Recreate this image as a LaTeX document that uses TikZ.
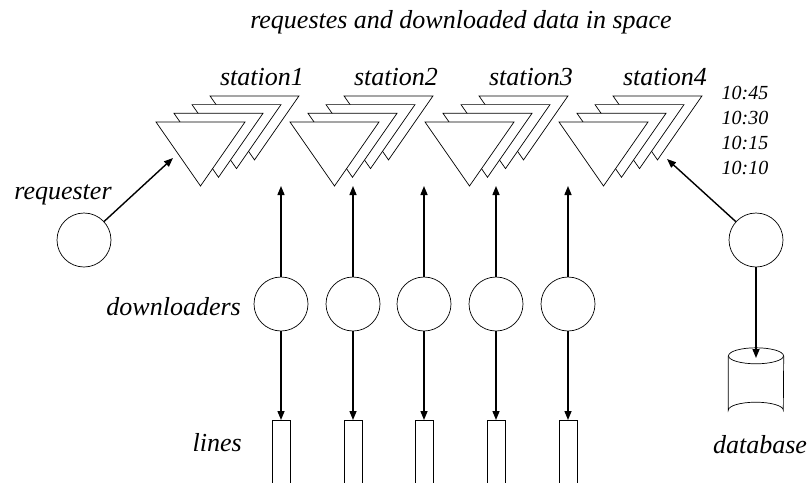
\documentclass[tikz,border=0pt]{standalone}
\usepackage{fontspec}
\setmainfont{Liberation Serif}
\usetikzlibrary{arrows.meta,positioning}
\newcommand{\widthtri}{89}
\newcommand{\heighttri}{64}
\newcommand{\shiftx}{18}
\newcommand{\shifty}{8.7}
\tikzset{
    common/.style={draw, line width=0.7pt},
    tri/.style={common, fill=white},
    agent/.style={common, circle, minimum size=54pt, inner sep=0pt},
    line/.style={common, rectangle, minimum width=18pt, minimum height=80pt, anchor=north},
    store/.style={rectangle, minimum width=55pt, minimum height=54pt, inner sep=0pt},
    endcap/.style={x radius=27.5, y radius=8},
    link/.style={line width=1.4pt, -{Triangle[length=9pt,width=7pt]}},
    lbl/.style={font=\fontsize{26}{26}\selectfont\itshape, inner sep=0pt},
    tlbl/.style={font=\fontsize{20}{20}\selectfont\itshape, inner sep=0pt}
}
% one station: four stacked triangles, back to front
\newcommand{\station}[3]{
    \foreach \k in {3,2,1,0}
        \draw[tri] (#2+\k*\shiftx, 122-\k*\shifty) -- ++(\widthtri,0) -- ++(-\widthtri/2,\heighttri) -- cycle;
    \node[lbl] (#1-label) at (#2+106,77) {#3};
}
\begin{document}
\begin{tikzpicture}[x=1pt, y=-1pt]
    \clip (0,0) rectangle (811,482);
    \node[lbl] (title) at (461,22) {requestes and downloaded data in space};

    \station{s1}{156}{station1}
    \station{s2}{290}{station2}
    \station{s3}{425}{station3}
    \station{s4}{559}{station4}

    % times of the stacked layers
    \foreach \t/\y in {10:45/93, 10:30/118, 10:15/143, 10:10/168}
        \node[tlbl] (t\y) at (745,\y) {\t};

    % requester
    \node[agent] (req) at (84,240) {};
    \node[lbl] (req-label) at (63,195) {requester};
    \coordinate (s1-in) at (173,158);
    \draw[link] (req) -- (s1-in);

    % downloaders and lines
    \foreach \i/\x in {1/281, 2/353, 3/424, 4/496, 5/568} {
        \node[agent] (d\i) at (\x,304) {};
        \node[line] (l\i) at (\x,420) {};
        \coordinate (up\i) at (\x,186);
        \draw[link] (d\i) -- (up\i);
        \draw[link] (d\i) -- (l\i);
    }
    \node[lbl, anchor=east] (d-label) at (241,307) {downloaders};
    \node[lbl, anchor=east] (l-label) at (242,443) {lines};

    % database side
    \node[agent] (src) at (756,240) {};
    \coordinate (s4-in) at (667,159);
    \draw[link] (src) -- (s4-in);
    \node[store] (db) at (756,383) {};
    \draw[common] (db.north) ellipse [endcap];
    \draw[common] (db.north west) -- (db.south west) arc [start angle=180, end angle=360, endcap] -- (db.north east);
    \coordinate (db-in) at (756,358);
    \draw[link] (src) -- (db-in);
    \node[lbl] (db-label) at (760,445) {database};
\end{tikzpicture}
\end{document}
